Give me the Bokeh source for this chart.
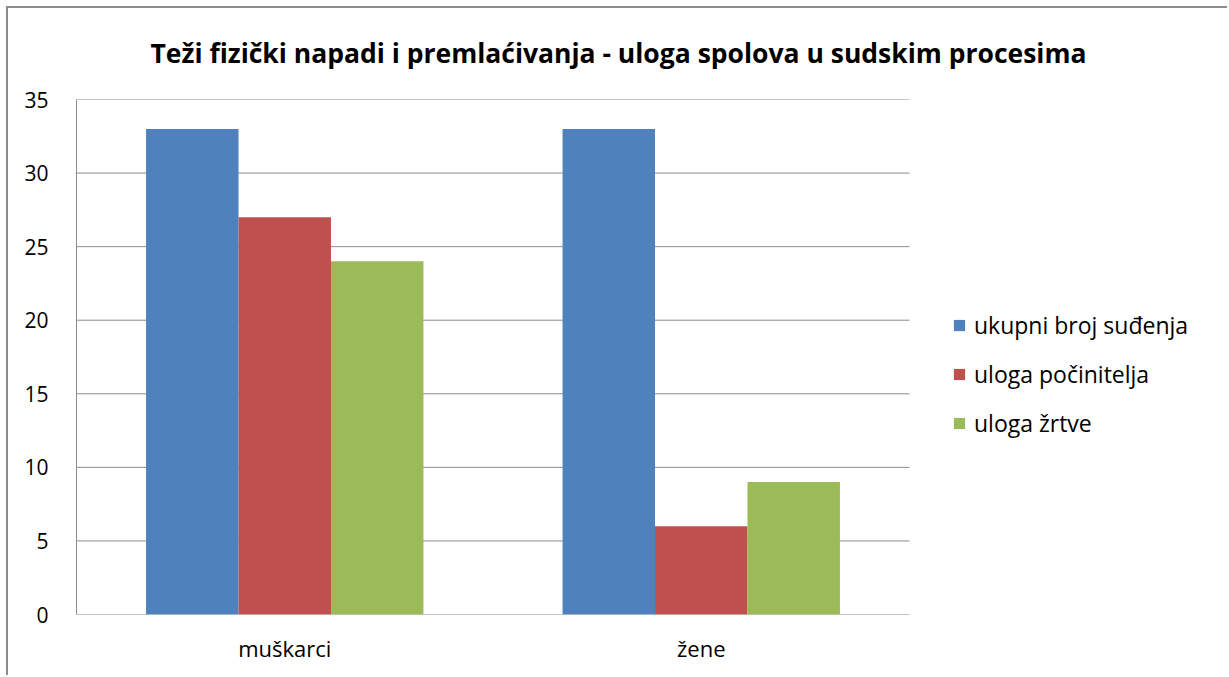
from bokeh.plotting import figure
from bokeh.models import (Range1d, Legend, LegendItem, Title, ColumnDataSource, FixedTicker)
from bokeh.transform import dodge
from bokeh.embed import file_html
from bokeh.resources import INLINE

categories = ["muškarci", "žene"]
series_names = ["ukupni broj suđenja", "uloga počinitelja", "uloga žrtve"]
ukupni = [33, 33]
pocinitelj = [27, 6]
zrtve = [24, 9]
y_ticks = [0, 5, 10, 15, 20, 25, 30, 35]
colors = ["#4F81BD", "#C0504D", "#9BBB59"]
title_text = "Teži fizički napadi i premlaćivanja  - uloga spolova u sudskim procesima"

W, H = 1221, 669
FL, FT, FB = 68, 91, 606
CAT_PX = 416.5                      # pixel width of one category slot
n = len(categories)
x_end = (W - FL) / CAT_PX           # plot area runs to the right edge; legend sits right of the bars
xs = [i + 0.5 for i in range(n)]

p = figure(x_range=Range1d(0, x_end), y_range=Range1d(0, 35),
           width=W, height=H, output_backend="svg", toolbar_location=None,
           min_border_left=FL, min_border_right=0, min_border_top=FT,
           min_border_bottom=H - FB)
p.styles = {"border-top": "2px solid #8c8c8c", "border-left": "2px solid #8c8c8c",
            "margin-left": "6px", "margin-top": "6px"}
p.outline_line_color = None
p.background_fill_color = "white"
p.border_fill_color = "white"
p.xgrid.visible = False
p.ygrid.visible = False

# gridlines and baseline limited to the category area
p.segment(x0=[0] * len(y_ticks), x1=[n] * len(y_ticks), y0=y_ticks, y1=y_ticks,
          line_color="#8c8c8c", line_width=1)

src = ColumnDataSource(dict(x=xs, s0=ukupni, s1=pocinitelj, s2=zrtve))
bw = 0.222
renderers = []
for i, col in enumerate(["s0", "s1", "s2"]):
    r = p.vbar(x=dodge("x", (i - 1) * bw), top=col, width=bw, source=src,
               fill_color=colors[i], line_color=None)
    renderers.append(r)

t = Title(text=title_text, align="left", vertical_align="top", text_font="Open Sans",
          text_font_size="26.5px", text_font_style="bold", text_color="#000000",
          standoff=53, offset=74)
p.add_layout(t, "above")

p.yaxis.ticker = FixedTicker(ticks=y_ticks)
p.xaxis.ticker = FixedTicker(ticks=xs)
p.xaxis.major_label_overrides = {x: c for x, c in zip(xs, categories)}
p.xaxis.axis_line_color = None
p.yaxis.axis_line_color = "#8c8c8c"
for ax in [p.xaxis[0], p.yaxis[0]]:
    ax.major_tick_line_color = None
    ax.minor_tick_line_color = None
    ax.major_label_text_font = "Open Sans"
    ax.major_label_text_color = "#000000"
p.yaxis.major_label_text_font_size = "21px"
p.xaxis.major_label_text_font_size = "22px"
p.yaxis.major_label_standoff = 22
p.xaxis.major_label_standoff = 12

legend = Legend(items=[LegendItem(label=series_names[i], renderers=[renderers[i]]) for i in range(3)],
                location=(876, 175), padding=0, margin=0, border_line_color=None,
                background_fill_alpha=0, glyph_width=14, glyph_height=14, label_standoff=8,
                label_height=24, spacing=17, label_text_font="Open Sans", label_text_font_size="23px",
                label_text_color="#000000")
p.add_layout(legend, "center")

open("out.html", "w").write(file_html(p, INLINE))
